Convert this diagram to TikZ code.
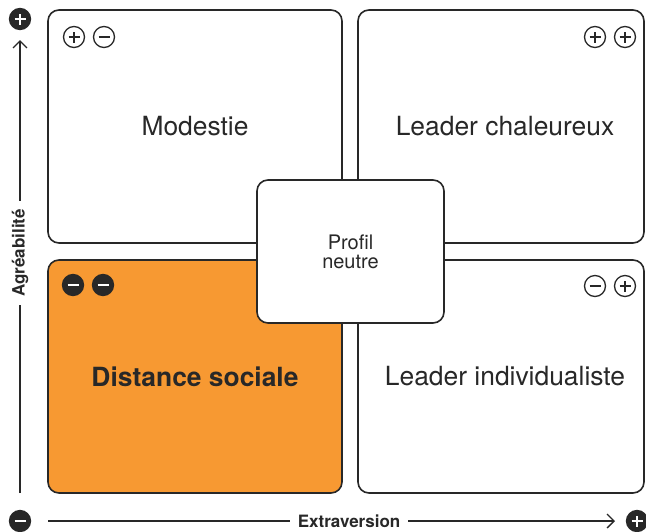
\documentclass[tikz,border=0pt]{standalone}
\usepackage{fontspec}
\setmainfont{TeX Gyre Heros}
\usetikzlibrary{arrows.meta}
\definecolor{inkc}{RGB}{40,40,40}
\definecolor{orangec}{RGB}{247,153,50}
\tikzset{
  quad/.style={draw=inkc, line width=1.6pt, rounded corners=11pt, fill=white,
    text=inkc, font=\fontsize{26.4}{30}\selectfont, align=center},
  sgn/.style={circle, draw=inkc, line width=1.3pt, minimum size=21pt, inner sep=0pt},
  minusbar/.style={path picture={\draw[#1] (path picture bounding box.center) ++(-5.5pt,0) -- ++(11pt,0);}},
  plusbar/.style={path picture={\draw[#1] (path picture bounding box.center) ++(-5.5pt,0) -- ++(11pt,0);
    \draw[#1] (path picture bounding box.center) ++(0,-5.5pt) -- ++(0,11pt);}},
  pluso/.style={sgn, plusbar={line width=1.3pt, inkc}},
  minuso/.style={sgn, minusbar={line width=1.3pt, inkc}},
  plusf/.style={sgn, fill=inkc, plusbar={line width=2.3pt, white}},
  minusf/.style={sgn, fill=inkc, minusbar={line width=2.4pt, white}},
  axis/.style={draw=inkc, line width=1.3pt, -{Straight Barb[length=7pt,width=14pt]}},
  axlabel/.style={fill=white, inner xsep=8pt, text=inkc, font=\fontsize{17}{19}\selectfont\bfseries}
}
\begin{document}
\begin{tikzpicture}[x=1pt, y=-1pt]
\useasboundingbox (0,0) rectangle (646,531);
% Quadrants
\node[quad, minimum width=294pt, minimum height=233pt] (modest) at (195,126.5) {Modestie};
\node[quad, minimum width=286pt, minimum height=233pt] (warm) at (501,126.5) {\hspace*{8pt}Leader chaleureux};
\node[quad, minimum width=294pt, minimum height=233pt, fill=orangec,
  font=\fontsize{26.4}{30}\selectfont\bfseries] (distance) at (195,376.5) {Distance sociale};
\node[quad, minimum width=286pt, minimum height=233pt] (indiv) at (501,376.5) {\hspace*{8pt}Leader individualiste};
\node[quad, minimum width=187pt, minimum height=143pt, font=\fontsize{20}{19}\selectfont] (neutral) at (350.5,251.5) {Profil\\neutre};
% Signs
\node[pluso] (modestA) at (74,37) {};
\node[minuso] (modestB) at (104,37) {};
\node[pluso] (warmA) at (595,37) {};
\node[pluso] (warmB) at (625,37) {};
\node[minuso] (indivA) at (595,286) {};
\node[pluso] (indivB) at (625,286) {};
\node[minusf] (distA) at (73,285) {};
\node[minusf] (distB) at (103,285) {};
% Axes
\node[plusf] (yplus) at (20,19) {};
\node[minusf] (xminus) at (20,521) {};
\node[plusf] (xplus) at (637,521) {};
\coordinate (ystart) at (20,493);
\coordinate (yend) at (20,40);
\coordinate (xstart) at (48,521);
\coordinate (xend) at (615,521);
\draw[axis] (ystart) -- node[axlabel, rotate=90, pos=0.53] (agree) {Agréabilité} (yend);
\draw[axis] (xstart) -- node[axlabel, pos=0.531] (extra) {Extraversion} (xend);
\end{tikzpicture}
\end{document}
